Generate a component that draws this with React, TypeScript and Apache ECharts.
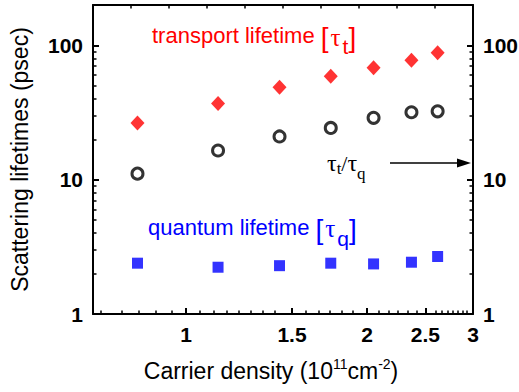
import React, { useEffect, useRef } from 'react';
import * as echarts from 'echarts';

// ---- data ----
const density = [0.83, 1.13, 1.43, 1.74, 2.05, 2.37, 2.62];
const transportLifetime = [26.5, 36.9, 48.8, 59.0, 68.2, 77.6, 88.2];
const lifetimeRatio = [11.1, 16.5, 21.0, 24.3, 28.9, 31.8, 32.3];
const quantumLifetime = [2.39, 2.23, 2.29, 2.39, 2.36, 2.43, 2.68];

// ---- tick values ----
const xMajorTicks = [1, 1.5, 2, 2.5, 3];
const xMinorTicks = [
  0.72, 0.78, 0.835, 0.89, 0.945,
  1.055, 1.11, 1.17, 1.225, 1.28, 1.34, 1.405,
  1.58, 1.66, 1.735, 1.815, 1.895,
  2.09, 2.17, 2.25, 2.335, 2.42,
  2.6, 2.665, 2.72, 2.775, 2.83, 2.885, 2.93,
];
const yMajorTicks = [1, 10, 100];
const yMinorTicks = [2, 3, 4, 5, 6, 7, 8, 9, 20, 30, 40, 50, 60, 70, 80, 90, 200];

const FONT = "'Liberation Sans', Arial, Helvetica, sans-serif";
const SERIF = "'Liberation Serif', 'Times New Roman', serif";

const X_MIN = 0.7;
const X_MAX = 3;
const Y_MIN = 1;
const Y_MAX = 200;

function App() {
  const ref = useRef<HTMLDivElement>(null);

  useEffect(() => {
    document.body.style.margin = '0';
    if (!ref.current) return;
    const chart = echarts.init(ref.current, undefined, { renderer: 'svg' });

    const majorLabel = {
      fontSize: 21,
      fontWeight: 'bold' as const,
      color: '#000',
      fontFamily: FONT,
    };

    const yMain = (position: 'left' | 'right', withName: boolean) => ({
      type: 'log',
      logBase: 10,
      min: Y_MIN,
      max: Y_MAX,
      position,
      ...(withName
        ? {
            name: 'Scattering lifetimes (psec)',
            nameLocation: 'middle',
            nameRotate: 90,
            nameGap: 62,
            nameTextStyle: { fontSize: 23, color: '#000', fontFamily: FONT },
          }
        : {}),
      axisLine: { show: true, onZero: false, lineStyle: { color: '#000', width: 2 } },
      axisTick: {
        show: true,
        inside: true,
        length: 6,
        customValues: yMajorTicks,
        lineStyle: { color: '#000', width: 2 },
      },
      axisLabel: {
        ...majorLabel,
        margin: 10,
        customValues: yMajorTicks,
        formatter: (v: number) => String(Math.round(v)),
      },
      splitLine: { show: false },
      minorTick: { show: false },
    });

    const yMinor = (position: 'left' | 'right') => ({
      type: 'log',
      logBase: 10,
      min: Y_MIN,
      max: Y_MAX,
      position,
      axisLine: { show: false },
      axisTick: {
        show: true,
        inside: true,
        length: 3.5,
        customValues: yMinorTicks,
        lineStyle: { color: '#000', width: 1.5 },
      },
      axisLabel: { show: false },
      splitLine: { show: false },
    });

    const option: any = {
      animation: false,
      backgroundColor: '#ffffff',
      grid: {
        left: 93,
        right: 46,
        top: 5,
        bottom: 78,
        containLabel: false,
        outerBoundsMode: 'none',
      },
      xAxis: [
        {
          type: 'log',
          logBase: 10,
          min: X_MIN,
          max: X_MAX,
          position: 'bottom',
          name: 'Carrier density (10{sup|11}cm{sup|-2})',
          nameLocation: 'middle',
          nameGap: 43,
          nameTextStyle: {
            fontSize: 23,
            color: '#000',
            fontFamily: FONT,
            padding: [0, 24, 0, 0],
            rich: {
              sup: { fontSize: 14, color: '#000', fontFamily: FONT, padding: [0, 0, 14, 0] },
            },
          },
          axisLine: { show: true, onZero: false, lineStyle: { color: '#000', width: 2 } },
          axisTick: {
            show: true,
            inside: true,
            length: 6,
            customValues: xMajorTicks,
            lineStyle: { color: '#000', width: 2 },
          },
          axisLabel: {
            ...majorLabel,
            margin: 10,
            customValues: xMajorTicks,
            formatter: (v: number) => String(Math.round(v * 10) / 10),
          },
          splitLine: { show: false },
          minorTick: { show: false },
        },
        {
          type: 'log',
          logBase: 10,
          min: X_MIN,
          max: X_MAX,
          position: 'bottom',
          axisLine: { show: false },
          axisTick: {
            show: true,
            inside: true,
            length: 3.5,
            customValues: xMinorTicks,
            lineStyle: { color: '#000', width: 1.5 },
          },
          axisLabel: { show: false },
          splitLine: { show: false },
        },
        {
          type: 'value',
          min: 0,
          max: 10,
          interval: 1,
          position: 'top',
          axisLine: { show: true, onZero: false, lineStyle: { color: '#000', width: 2 } },
          axisTick: { show: true, inside: true, length: 3.5, lineStyle: { color: '#000', width: 1.5 } },
          axisLabel: { show: false },
          splitLine: { show: false },
        },
      ],
      yAxis: [yMain('left', true), yMinor('left'), yMain('right', false), yMinor('right')],
      series: [
        {
          name: 'transport lifetime',
          type: 'scatter',
          xAxisIndex: 0,
          yAxisIndex: 0,
          symbol: 'diamond',
          symbolSize: [14, 15],
          itemStyle: { color: '#ff0000' },
          data: density.map((x, i) => [x, transportLifetime[i]]),
        },
        {
          name: 'ratio',
          type: 'scatter',
          xAxisIndex: 0,
          yAxisIndex: 2,
          symbol: 'circle',
          symbolSize: 11,
          itemStyle: { color: '#ffffff', borderColor: '#000', borderWidth: 3 },
          data: density.map((x, i) => [x, lifetimeRatio[i]]),
        },
        {
          name: 'quantum lifetime',
          type: 'scatter',
          xAxisIndex: 0,
          yAxisIndex: 0,
          symbol: 'rect',
          symbolSize: 11,
          itemStyle: { color: '#0000ff' },
          data: density.map((x, i) => [x, quantumLifetime[i]]),
        },
      ],
      graphic: [
        {
          type: 'text',
          x: 152,
          y: 35,
          style: {
            text: 'transport lifetime {br|[}{tau|τ}{sub|t}{br|]}',
            fill: '#ff0000',
            fontSize: 22,
            fontFamily: FONT,
            align: 'left',
            verticalAlign: 'middle',
            rich: {
              br: { fontSize: 28, fontFamily: FONT, fill: '#ff0000', padding: [4, 0, 0, 0] },
              tau: { fontSize: 25, fontFamily: SERIF, fill: '#ff0000', padding: [4, 2, 0, 2] },
              sub: { fontSize: 21, fontFamily: FONT, fill: '#ff0000', padding: [22, 0, 0, 0] },
            },
          },
        },
        {
          type: 'text',
          x: 148,
          y: 227,
          style: {
            text: 'quantum lifetime {br|[}{tau|τ}{sub|q}{br|]}',
            fill: '#0000ff',
            fontSize: 22,
            fontFamily: FONT,
            align: 'left',
            verticalAlign: 'middle',
            rich: {
              br: { fontSize: 28, fontFamily: FONT, fill: '#0000ff', padding: [4, 0, 0, 0] },
              tau: { fontSize: 25, fontFamily: SERIF, fill: '#0000ff', padding: [2, 2, 0, 2] },
              sub: { fontSize: 21, fontFamily: FONT, fill: '#0000ff', padding: [23, 0, 0, 0] },
            },
          },
        },
        {
          type: 'text',
          x: 327,
          y: 163,
          style: {
            text: '{tau|τ}{s1|t}{sl|/}{tau|τ}{s2|q}',
            fill: '#000',
            fontSize: 22,
            fontFamily: SERIF,
            align: 'left',
            verticalAlign: 'middle',
            rich: {
              tau: { fontSize: 24, fontFamily: SERIF, fill: '#000' },
              s1: { fontSize: 17, fontFamily: SERIF, fill: '#000', padding: [10, 0, 0, 0] },
              sl: { fontSize: 22, fontFamily: SERIF, fill: '#000' },
              s2: { fontSize: 17, fontFamily: SERIF, fill: '#000', padding: [20, 0, 0, 0] },
            },
          },
        },
        {
          type: 'line',
          shape: { x1: 390, y1: 163, x2: 462, y2: 163 },
          style: { stroke: '#000', lineWidth: 1.6 },
        },
        {
          type: 'polygon',
          shape: { points: [[471, 163], [457, 158.5], [457, 167.5]] },
          style: { fill: '#000' },
        },
      ],
    };

    chart.setOption(option);
    return () => chart.dispose();
  }, []);

  return <div ref={ref} style={{ width: 519, height: 392 }} />;
}

export default App;
